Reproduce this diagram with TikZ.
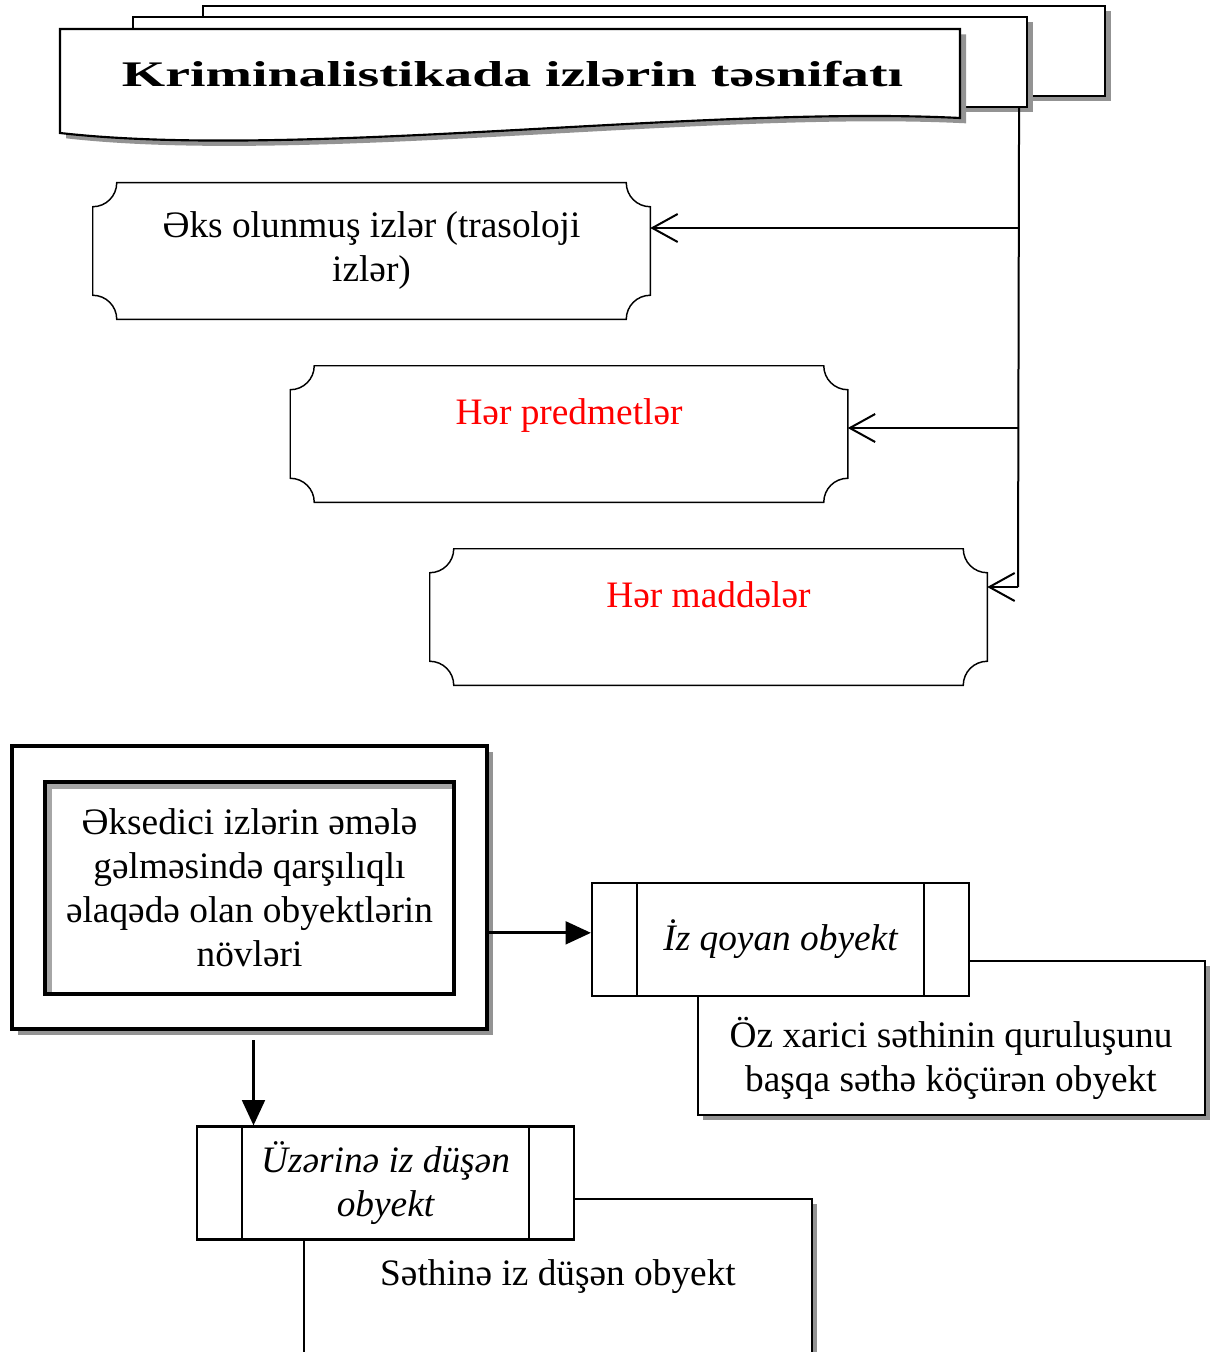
\documentclass[tikz,border=0pt]{standalone}
\usepackage{fontspec}
\setmainfont{Liberation Serif}
\usetikzlibrary{arrows.meta,shadows}

\newcommand{\plaqueframe}[1]{%
  \draw[line width=1.1pt] ([xshift=18pt]#1.north west) -- ([xshift=-18pt]#1.north east)
    arc[start angle=180,end angle=270,radius=18pt] -- ([yshift=18pt]#1.south east)
    arc[start angle=90,end angle=180,radius=18pt] -- ([xshift=18pt]#1.south west)
    arc[start angle=0,end angle=90,radius=18pt] -- ([yshift=-18pt]#1.north west)
    arc[start angle=270,end angle=360,radius=18pt] -- cycle;}

\tikzset{
  txt/.style={font=\fontsize{28}{33}\selectfont,align=center},
  sheet/.style={draw,line width=1.6pt,fill=white,
    general shadow={fill=gray!85,shadow xshift=4.5pt,shadow yshift=-4pt}},
  plaque/.style={txt,minimum width=417.75pt,minimum height=102pt,inner sep=0pt},
  trunkline/.style={line width=1.5pt},
  branch/.style={line width=1.5pt,-{Straight Barb[length=19pt,width=21pt]}},
  flow/.style={line width=2.2pt,-{Triangle[length=19pt,width=17pt]}},
  outerframe/.style={draw,line width=2.5pt,fill=white,minimum width=356.25pt,minimum height=212.25pt,
    general shadow={fill=gray!85,shadow xshift=4.5pt,shadow yshift=-4.5pt}},
  innerframe/.style={txt,draw,line width=2.5pt,fill=gray!70,minimum width=306.75pt,minimum height=159pt,
    path picture={\fill[white] ([shift={(5.5pt,-5.5pt)}]path picture bounding box.north west)
      rectangle (path picture bounding box.south east);}},
  proc/.style={txt,font=\fontsize{28}{33}\selectfont\itshape,draw,line width=1.6pt,fill=white,
    minimum width=282.75pt,minimum height=84.75pt,
    path picture={\draw[line width=1.6pt]
      ([xshift=34pt]path picture bounding box.north west) -- ([xshift=34pt]path picture bounding box.south west)
      ([xshift=-34pt]path picture bounding box.north east) -- ([xshift=-34pt]path picture bounding box.south east);}},
  note/.style={draw,line width=1.1pt,fill=white,
    general shadow={fill=gray!85,shadow xshift=3.5pt,shadow yshift=-3.5pt}}
}

\begin{document}
\begin{tikzpicture}[x=0.75pt,y=-0.75pt]
  \clip (0,0) rectangle (1213,1352);
  % title stack
  \node[sheet,minimum width=676.5pt,minimum height=67.5pt] (page3) at (654,51) {};
  \node[sheet,minimum width=670.5pt,minimum height=67.5pt] (page2) at (580,62) {};
  \draw[sheet] (60,29) -- (960,29) -- (960,118) .. controls (700,105) and (300,160) .. (60,133) -- cycle;
  \node[font=\fontsize{27}{31}\selectfont\bfseries\addfontfeature{FakeStretch=1.55},anchor=base] (title) at (512.5,87)
    {Kriminalistikada izlərin təsnifatı};

  \node[plaque] (plq1) at (371.5,251) {Əks olunmuş izlər (trasoloji\\izlər)};
  \node[plaque,text=red] (plq2) at (569,434) {Hər predmetlər\\~};
  \node[plaque,text=red] (plq3) at (708.5,617) {Hər maddələr\\~};
  \plaqueframe{plq1}
  \plaqueframe{plq2}
  \plaqueframe{plq3}

  \coordinate (fork1) at (1018,228);
  \coordinate (fork2) at (1018,428);
  \coordinate (fork3) at (1018,587);
  \draw[trunkline] ([xshift=-6.75pt]page2.south east) -- (fork3);
  \draw[branch] (fork1) -- (fork1 -| plq1.east);
  \draw[branch] (fork2) -- (fork2 -| plq2.east);
  \draw[branch] (fork3) -- (fork3 -| plq3.east);

  % object types
  \node[outerframe] (outer) at (249.5,887.5) {};
  \node[innerframe] (inner) at (249.5,888)
    {Əksedici izlərin əmələ\\gəlməsində qarşılıqlı\\əlaqədə olan obyektlərin\\növləri};

  \node[note,minimum width=380.25pt,minimum height=115.5pt] (note1) at (951.5,1038) {};
  \node[txt] (note1txt) at (951,1058) {Öz xarici səthinin quruluşunu\\başqa səthə köçürən obyekt};
  \node[proc] (proc1) at (780.5,939.5) {İz qoyan obyekt};

  \node[note,minimum width=381pt,minimum height=165.75pt] (note2) at (558,1309.5) {};
  \node[txt] (note2txt) at (558,1277) {Səthinə iz düşən obyekt};
  \node[proc] (proc2) at (385.5,1183) {Üzərinə iz düşən\\obyekt};

  \draw[flow] ([yshift=5pt]proc1.west -| outer.east) -- ([yshift=5pt]proc1.west);
  \draw[flow] ([xshift=3pt,yshift=-7pt]outer.south) -- ([xshift=3pt]outer.south |- proc2.north);
\end{tikzpicture}
\end{document}
